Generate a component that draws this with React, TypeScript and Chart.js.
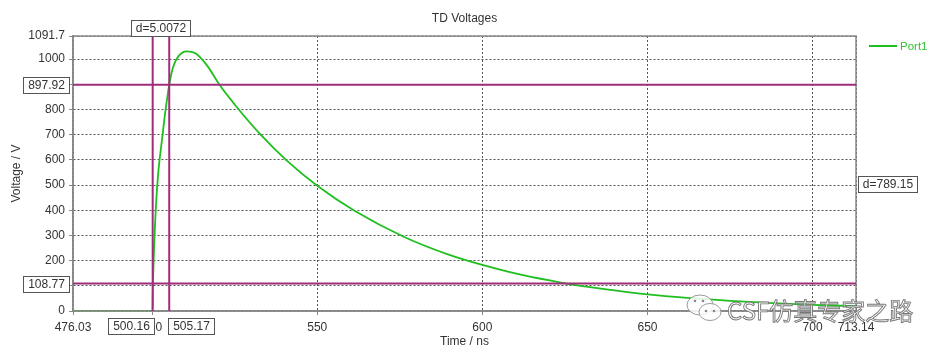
import React, { useEffect, useRef } from "react";
import { Chart, registerables } from "chart.js";

Chart.register(...registerables);

// ---- data ----
const TIMES = [
  476.03, 500.1, 500.2, 500.56, 501.17, 501.92, 502.89, 504.04, 505.19, 506.4, 507.92,
  510.46, 513.0, 516.6, 520.4, 525.6, 533.0, 540.7, 550.0, 561.4, 576.5, 590.0, 600.0,
  612.0, 624.2, 637.0, 650.0, 662.0, 675.0, 688.0, 700.0, 713.14,
];
const VOLTS = [
  0, 0, 84, 243, 422, 560, 670, 796, 900, 971, 1011,
  1031, 1024, 975, 898, 810, 698, 598, 497, 397, 293, 223, 183,
  143, 112, 87, 66, 52, 40.5, 31, 24.5, 19,
];
const SERIES_NAME = "Port1";
const X_MIN = 476.03;
const X_MAX = 713.14;
const Y_MIN = 0;
const Y_MAX = 1091.7;
const X_TICKS = [476.03, 500, 550, 600, 650, 700, 713.14];
const Y_TICKS = [0, 100, 200, 300, 400, 500, 600, 700, 800, 900, 1000, 1091.7];
const V_MARKERS = [500.16, 505.17];
const V_MARKER_LABELS = ["500.16", "505.17"];
const H_MARKERS = [897.92, 108.77];
const H_MARKER_LABELS = ["897.92", "108.77"];
const V_DELTA_LABEL = "d=5.0072";
const H_DELTA_LABEL = "d=789.15";
const TITLE = "TD Voltages";
const X_TITLE = "Time / ns";
const Y_TITLE = "Voltage / V";
const WATERMARK = "CSF仿真专家之路";

const FONT = "'Liberation Sans', Arial, sans-serif";
const TEXT = "#333333";
const GREEN = "#1fbf1f";
const MARKER = "#a02c7c";

function drawBox(ctx: CanvasRenderingContext2D, text: string, x: number, y: number, hAlign: "left" | "right" | "center", vAlign: "top" | "middle" | "bottom") {
  ctx.save();
  ctx.font = `12px ${FONT}`;
  const w = Math.round(ctx.measureText(text).width + 9);
  const h = 16;
  let bx = x;
  if (hAlign === "right") bx = x - w;
  else if (hAlign === "center") bx = x - w / 2;
  let by = y;
  if (vAlign === "middle") by = y - h / 2;
  else if (vAlign === "bottom") by = y - h;
  bx = Math.round(bx) + 0.5;
  by = Math.round(by) + 0.5;
  ctx.fillStyle = "#ffffff";
  ctx.fillRect(bx, by, w, h);
  ctx.strokeStyle = "#555555";
  ctx.lineWidth = 1;
  ctx.strokeRect(bx, by, w, h);
  ctx.fillStyle = TEXT;
  ctx.textAlign = "center";
  ctx.textBaseline = "middle";
  ctx.fillText(text, bx + w / 2, by + h / 2 + 0.5);
  ctx.restore();
}

const overlayPlugin = {
  id: "overlay",
  afterDatasetsDraw(chart: any) {
    const { ctx, chartArea: a, scales } = chart;
    const xs = scales.x;
    const ys = scales.y;
    ctx.save();
    ctx.strokeStyle = "#888888";
    ctx.lineWidth = 1.5;
    ctx.strokeRect(a.left, a.top, a.right - a.left, a.bottom - a.top);
    ctx.strokeStyle = MARKER;
    ctx.lineWidth = 2;
    V_MARKERS.forEach((v) => {
      const px = xs.getPixelForValue(v);
      ctx.beginPath();
      ctx.moveTo(px, a.top);
      ctx.lineTo(px, a.bottom);
      ctx.stroke();
    });
    H_MARKERS.forEach((v) => {
      const py = ys.getPixelForValue(v);
      ctx.beginPath();
      ctx.moveTo(a.left, py);
      ctx.lineTo(a.right, py);
      ctx.stroke();
    });
    ctx.restore();
  },
  afterDraw(chart: any) {
    const { ctx, chartArea: a, scales } = chart;
    const xs = scales.x;
    const ys = scales.y;
    const vpx = V_MARKERS.map((v) => xs.getPixelForValue(v));
    const hpy = H_MARKERS.map((v) => ys.getPixelForValue(v));
    H_MARKER_LABELS.forEach((t, i) => drawBox(ctx, t, a.left - 4, hpy[i], "right", "middle"));
    drawBox(ctx, V_MARKER_LABELS[0], vpx[0] + 1, a.bottom + 7, "right", "top");
    drawBox(ctx, V_MARKER_LABELS[1], vpx[1] - 1, a.bottom + 7, "left", "top");
    drawBox(ctx, V_DELTA_LABEL, (vpx[0] + vpx[1]) / 2, a.top - 0.5, "center", "bottom");
    drawBox(ctx, H_DELTA_LABEL, a.right + 2, (hpy[0] + hpy[1]) / 2, "left", "middle");

    // legend
    ctx.save();
    const ly = a.top + 10;
    ctx.strokeStyle = GREEN;
    ctx.lineWidth = 2;
    ctx.beginPath();
    ctx.moveTo(a.right + 13, ly);
    ctx.lineTo(a.right + 41, ly);
    ctx.stroke();
    ctx.fillStyle = "#33c033";
    ctx.font = `11.5px ${FONT}`;
    ctx.textAlign = "left";
    ctx.textBaseline = "middle";
    ctx.fillText(SERIES_NAME, a.right + 44, ly + 0.5);
    ctx.restore();

    // watermark
    ctx.save();
    ctx.lineWidth = 1;
    ctx.strokeStyle = "#9a9a9a";
    ctx.fillStyle = "rgba(255,255,255,0.85)";
    ctx.beginPath();
    ctx.ellipse(700, 305, 13, 10, 0, 0, Math.PI * 2);
    ctx.fill();
    ctx.stroke();
    ctx.beginPath();
    ctx.ellipse(710, 312, 11, 8.5, 0, 0, Math.PI * 2);
    ctx.fill();
    ctx.stroke();
    ctx.fillStyle = "#888";
    [[695, 301], [703, 301], [706, 311], [714, 311]].forEach(([x, y]) => {
      ctx.beginPath();
      ctx.arc(x, y, 1.3, 0, Math.PI * 2);
      ctx.fill();
    });
    ctx.font = `24px 'Noto Sans CJK SC', sans-serif`;
    ctx.textAlign = "left";
    ctx.textBaseline = "middle";
    ctx.fillStyle = "rgba(255,255,255,0.9)";
    ctx.fillText(WATERMARK, 727, 311);
    ctx.strokeStyle = "#777777";
    ctx.lineWidth = 0.9;
    ctx.strokeText(WATERMARK, 727, 311);
    ctx.restore();
  },
};

export default function App() {
  const ref = useRef<HTMLCanvasElement | null>(null);
  useEffect(() => {
    if (!ref.current) return;
    const font = { family: FONT, size: 12 };
    const chart = new Chart(ref.current, {
      type: "line",
      data: {
        datasets: [
          {
            label: SERIES_NAME,
            data: TIMES.map((t, i) => ({ x: t, y: VOLTS[i] })),
            borderColor: GREEN,
            backgroundColor: GREEN,
            borderWidth: 1.8,
            pointRadius: 0,
            fill: false,
            cubicInterpolationMode: "monotone",
          },
        ],
      },
      options: {
        animation: false,
        responsive: false,
        devicePixelRatio: 1,
        layout: { padding: { left: 0, right: 84, top: 0, bottom: 0 } },
        plugins: {
          legend: { display: false },
          tooltip: { enabled: false },
          title: {
            display: true,
            text: TITLE,
            fullSize: false,
            color: TEXT,
            font: { family: FONT, size: 12, weight: "normal" },
            padding: { top: 11, bottom: 10.6 },
          },
        },
        scales: {
          x: {
            type: "linear",
            min: X_MIN,
            max: X_MAX,
            afterBuildTicks: (s: any) => {
              s.ticks = X_TICKS.map((v) => ({ value: v }));
            },
            afterFit: (s: any) => {
              s.height = 42;
            },
            ticks: {
              autoSkip: false,
              maxRotation: 0,
              padding: 5,
              color: TEXT,
              font,
              callback: (v: any) => String(v),
            },
            grid: { color: "#555555", tickLength: 4, tickColor: "#888888", tickBorderDash: [] },
            border: { color: "#888888", width: 1.5, dash: [2, 2] },
            title: { display: true, text: X_TITLE, color: TEXT, font, padding: { top: 0, bottom: 4 } },
          },
          y: {
            type: "linear",
            min: Y_MIN,
            max: Y_MAX,
            afterBuildTicks: (s: any) => {
              s.ticks = Y_TICKS.map((v) => ({ value: v }));
            },
            afterFit: (s: any) => {
              s.width = 73;
            },
            ticks: {
              autoSkip: false,
              padding: 4,
              color: TEXT,
              font,
              callback: (v: any) => String(v),
            },
            grid: { color: "#555555", tickLength: 4, tickColor: "#888888", tickBorderDash: [] },
            border: { color: "#888888", width: 1.5, dash: [2, 2] },
            title: { display: true, text: Y_TITLE, color: TEXT, font, padding: { top: 9, bottom: 0 } },
          },
        },
      },
      plugins: [overlayPlugin],
    } as any);
    return () => chart.destroy();
  }, []);
  return (
    <div style={{ position: "fixed", left: 0, top: 0, width: 940, height: 353, background: "#fff" }}>
      <canvas ref={ref} width={940} height={353} style={{ display: "block", width: 940, height: 353 }} />
    </div>
  );
}
